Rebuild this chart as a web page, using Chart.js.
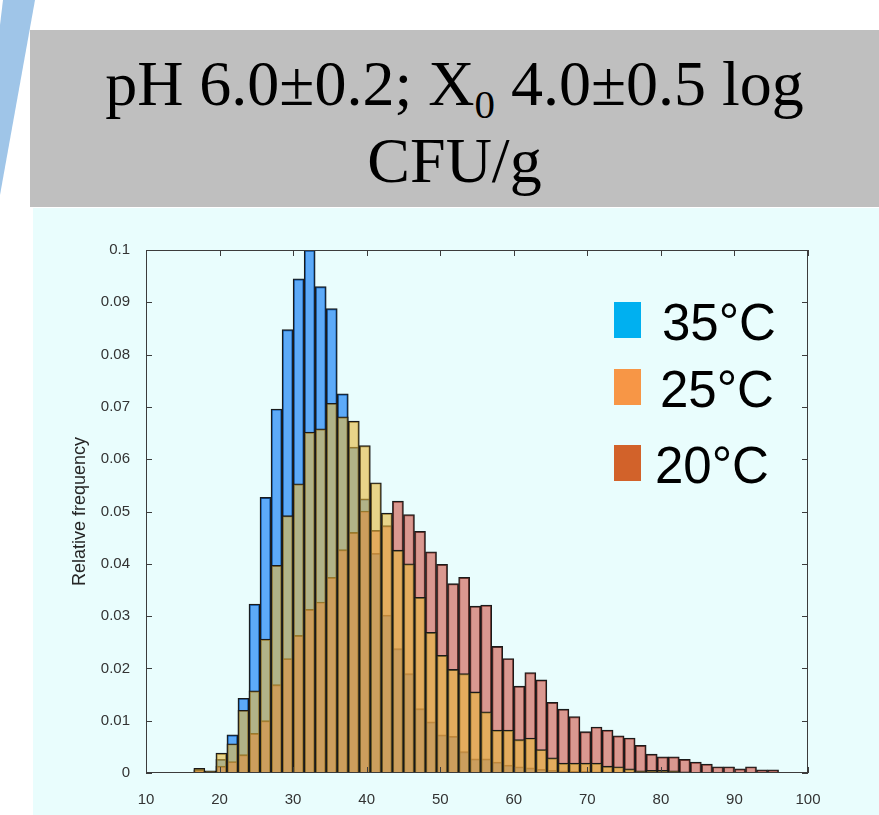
<!DOCTYPE html>
<html>
<head>
<meta charset="utf-8">
<script src="https://cdn.jsdelivr.net/npm/chart.js@4.4.1/dist/chart.umd.min.js"></script>
<style>
  html, body { margin: 0; padding: 0; background: #fff; }
  body { position: relative; width: 879px; height: 815px; overflow: hidden; }
  #wedge { position: absolute; left: 0; top: 0; width: 40px; height: 200px; background: #9fc5e8;
           clip-path: polygon(3px 0, 35px 0, 0 195px, 0 25px); }
  #band { position: absolute; left: 30px; top: 30px; width: 849px; height: 177px; background: #bfbfbf; }
  #panel { position: absolute; left: 33px; top: 208px; width: 846px; height: 607px; background: #e9fdfd; }
  #title { position: absolute; left: 30px; top: 49px; width: 849px; text-align: center;
           font-family: "Liberation Serif", "Times New Roman", serif; font-size: 64px; line-height: 70px; color: #000; }
  #title .sub { font-size: 0.64em; position: relative; top: 0.32em; }
  #chart { position: absolute; left: 0; top: 0; }
  .key { position: absolute; width: 27px; height: 36px; }
  .lab { position: absolute; font-family: "Liberation Sans", Arial, sans-serif; font-size: 51px; line-height: 51px; color: #000; }
</style>
</head>
<body>
<div id="wedge"></div>
<div id="band"></div>
<div id="panel"></div>
<div id="title">
  <div>pH 6.0±0.2; X<span class="sub">0</span> 4.0±0.5 log</div>
  <div>CFU/g</div>
</div>
<canvas id="chart" width="879" height="815"></canvas>
<div class="key" style="left:614px;top:302px;background:#00b0f0"></div>
<div class="lab" style="left:662px;top:297px">35°C</div>
<div class="key" style="left:614px;top:369px;background:#f79646"></div>
<div class="lab" style="left:660px;top:364px">25°C</div>
<div class="key" style="left:614px;top:445px;background:#d2622a"></div>
<div class="lab" style="left:655px;top:440px">20°C</div>

<script>
// bin centres (bin width 1.5)
const binCenters = [
  17.25, 18.75, 20.25, 21.75, 23.25, 24.75, 26.25, 27.75, 29.25, 30.75,
  32.25, 33.75, 35.25, 36.75, 38.25, 39.75, 41.25, 42.75, 44.25, 45.75,
  47.25, 48.75, 50.25, 51.75, 53.25, 54.75, 56.25, 57.75, 59.25, 60.75,
  62.25, 63.75, 65.25, 66.75, 68.25, 69.75, 71.25, 72.75, 74.25, 75.75,
  77.25, 78.75, 80.25, 81.75, 83.25, 84.75, 86.25, 87.75, 89.25, 90.75,
  92.25, 93.75, 95.25
];

const freq35 = [
  0, 0.0003, 0.0026, 0.0073, 0.0143, 0.0323, 0.0527, 0.0696, 0.0848, 0.0945,
  0.1, 0.093, 0.0888, 0.0725, 0.0623, 0.0524, 0.042, 0.0302, 0.0238, 0.019,
  0.0123, 0.0098, 0.0073, 0.007, 0.0041, 0.0027, 0.0027, 0.0021, 0.0015, 0.0012,
  0.001, 0.0007, 0.0005, 0.0004, 0.0003, 0.0003, 0.0002, 0.0002, 0.0001, 0,
  0, 0, 0, 0, 0, 0, 0, 0, 0, 0,
  0, 0, 0
];

const freq25 = [
  0.0009, 0.0004, 0.0038, 0.0056, 0.012, 0.0157, 0.0256, 0.0397, 0.0492, 0.0553,
  0.0652, 0.0658, 0.0707, 0.0681, 0.0673, 0.0626, 0.0555, 0.0497, 0.0426, 0.04,
  0.0336, 0.0269, 0.0225, 0.0198, 0.019, 0.0155, 0.0117, 0.0082, 0.0082, 0.0064,
  0.0067, 0.0045, 0.0029, 0.0019, 0.0019, 0.0019, 0.0019, 0.0013, 0.0012, 0.0008,
  0.0004, 0.0005, 0.0005, 0.0004, 0.0002, 0.0001, 0, 0, 0, 0,
  0, 0, 0
];

const freq20 = [
  0.0006, 0.0003, 0.0013, 0.0022, 0.0035, 0.0076, 0.01, 0.0169, 0.0219, 0.0263,
  0.0313, 0.0327, 0.0374, 0.0427, 0.046, 0.0501, 0.0464, 0.0473, 0.052, 0.0494,
  0.0462, 0.0423, 0.0399, 0.0362, 0.0374, 0.0319, 0.0321, 0.0242, 0.0219, 0.0166,
  0.0192, 0.0178, 0.0135, 0.0122, 0.0108, 0.0079, 0.0088, 0.0082, 0.0071, 0.0067,
  0.0053, 0.0036, 0.0031, 0.0031, 0.0026, 0.0021, 0.0017, 0.0012, 0.0012, 0.0008,
  0.0012, 0.0006, 0.0006
];

const xTicks = [10, 20, 30, 40, 50, 60, 70, 80, 90, 100];
const yTicks = [0, 0.01, 0.02, 0.03, 0.04, 0.05, 0.06, 0.07, 0.08, 0.09, 0.1];

function toPoints(vals) {
  return vals.map((v, i) => ({ x: binCenters[i], y: v > 0 ? v : null }));
}

// matlab style box with inward ticks
const frameTicks = {
  id: "frameTicks",
  afterDatasetsDraw(chart) {
    const { ctx, chartArea: a, scales: { x, y } } = chart;
    ctx.save();
    ctx.strokeStyle = "#3c3c3c";
    ctx.lineWidth = 1;
    ctx.strokeRect(a.left + 0.5, a.top + 0.5, a.width - 1, a.height - 1);
    ctx.beginPath();
    xTicks.forEach(t => {
      const px = Math.round(x.getPixelForValue(t)) + 0.5;
      ctx.moveTo(px, a.bottom); ctx.lineTo(px, a.bottom - 6);
      ctx.moveTo(px, a.top); ctx.lineTo(px, a.top + 6);
    });
    yTicks.forEach(t => {
      const py = Math.round(y.getPixelForValue(t)) + 0.5;
      ctx.moveTo(a.left, py); ctx.lineTo(a.left + 6, py);
      ctx.moveTo(a.right, py); ctx.lineTo(a.right - 6, py);
    });
    ctx.stroke();
    ctx.restore();
  }
};

const tickFont = { family: "'Liberation Sans', Arial, sans-serif", size: 15 };

new Chart(document.getElementById("chart").getContext("2d"), {
  type: "bar",
  data: {
    datasets: [
      { label: "35°C", data: toPoints(freq35), backgroundColor: "rgba(0,115,245,0.6)", order: 3 },
      { label: "25°C", data: toPoints(freq25), backgroundColor: "rgba(232,185,60,0.6)", order: 1 },
      { label: "20°C", data: toPoints(freq20), backgroundColor: "rgba(209,85,71,0.6)", order: 2 }
    ]
  },
  options: {
    responsive: false,
    animation: false,
    layout: { padding: { left: 60, right: 71, top: 250, bottom: 0 } },
    datasets: {
      bar: {
        grouped: false,
        barPercentage: 1,
        categoryPercentage: 1,
        borderColor: "#1a1a1a",
        borderWidth: 1.3,
        borderSkipped: "start"
      }
    },
    plugins: { legend: { display: false }, tooltip: { enabled: false } },
    scales: {
      x: {
        type: "linear",
        min: 10,
        max: 100,
        offset: false,
        grid: { display: false },
        border: { display: false },
        afterBuildTicks: s => { s.ticks = xTicks.map(v => ({ value: v })); },
        ticks: { padding: 10, color: "#333", font: tickFont, maxRotation: 0 },
        afterFit: s => { s.height = 42; }
      },
      y: {
        type: "linear",
        min: 0,
        max: 0.1,
        grid: { display: false },
        border: { display: false },
        afterBuildTicks: s => { s.ticks = yTicks.map(v => ({ value: v })); },
        ticks: { padding: 8, color: "#333", font: tickFont, callback: v => String(Number(v.toFixed(2))) },
        title: {
          display: true,
          text: "Relative frequency",
          color: "#262626",
          font: { family: "'Liberation Sans', Arial, sans-serif", size: 18 },
          padding: { top: 9, bottom: 0 }
        },
        afterFit: s => { s.width = 86; }
      }
    }
  },
  plugins: [frameTicks]
});
</script>
</body>
</html>
